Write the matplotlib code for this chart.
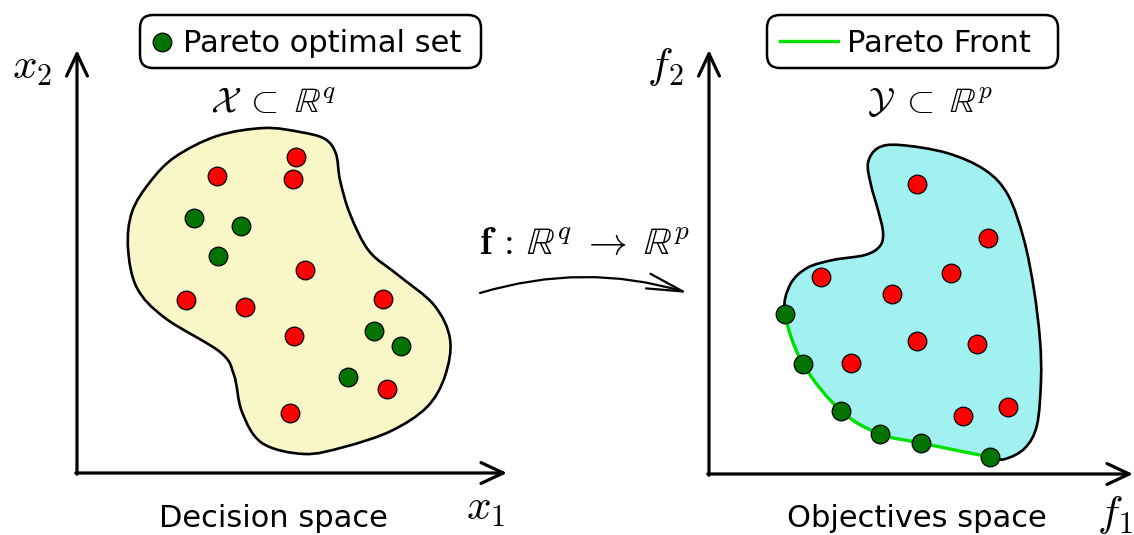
import numpy as np
import matplotlib.pyplot as plt
from matplotlib.path import Path
from matplotlib.patches import PathPatch, FancyBboxPatch

plt.rcParams["mathtext.fontset"] = "cm"
plt.rcParams["font.family"] = "DejaVu Sans"

# points in the decision space (pixel frame of the drawing)
DEC_OTHER_X = [296, 293, 217, 305, 186, 245, 383, 294, 387, 290]
DEC_OTHER_Y = [157, 179, 176, 270, 300, 307, 299, 336, 389, 413]
DEC_PARETO_X = [194, 241, 218, 374, 401, 348]
DEC_PARETO_Y = [218, 226, 256, 331, 346, 377]

# points in the objectives space
OBJ_OTHER_X = [917, 988, 951, 821, 892, 917, 977, 851, 963, 1008]
OBJ_OTHER_Y = [184, 238, 273, 277, 294, 341, 344, 363, 416, 407]
OBJ_PARETO_X = [785, 803, 841, 880, 921, 990]
OBJ_PARETO_Y = [314, 364, 411, 434, 443, 457]

# outline of the feasible regions
DEC_OUTLINE = [(264, 128), (300, 132), (325, 139), (336, 154), (340, 180), (350, 214),
               (369, 251), (398, 275), (434, 305), (450, 339), (445, 376), (427, 407),
               (391, 431), (344, 447), (304, 454), (262, 443), (242, 412), (234, 375),
               (220, 352), (165, 318), (137, 288), (128, 248), (132, 212), (150, 182),
               (175, 157), (217, 136)]
OBJ_OUTLINE = [(790, 285), (807, 268), (833, 260), (865, 255), (880, 246), (883, 232),
               (878, 210), (871, 185), (868, 163), (878, 148), (900, 145), (947, 153),
               (985, 170), (1008, 195), (1024, 240), (1034, 290), (1040, 340), (1041, 380),
               (1037, 425), (1025, 448), (1005, 459)]

RED = "#ff0000"
GREEN = "#007300"
FRONT_GREEN = "#00e000"
YELLOW_FILL = "#f9f6c7"
CYAN_FILL = "#a0f1f0"


def smooth_path(pts, segments):
    # closed Catmull-Rom through pts, as cubic bezier pieces
    pts = np.asarray(pts, float)
    n = len(pts)
    verts, codes = [], []
    last = None
    for i in segments:
        p0, p1, p2, p3 = pts[(i - 1) % n], pts[i], pts[(i + 1) % n], pts[(i + 2) % n]
        if last != i:
            verts.append(p1)
            codes.append(Path.MOVETO)
        verts += [p1 + (p2 - p0) / 6, p2 - (p3 - p1) / 6, p2]
        codes += [Path.CURVE4] * 3
        last = (i + 1) % n
    return Path(verts, codes)


def draw_axes(ax, x0, y0, x_end, y_top):
    style = "->,head_length=1.6,head_width=0.75"
    kw = dict(arrowstyle=style, lw=2.3, color="black", mutation_scale=10,
              shrinkA=0, shrinkB=0)
    ax.annotate("", xy=(x0, y_top), xytext=(x0, y0 + 1.2), arrowprops=kw)
    ax.annotate("", xy=(x_end, y0), xytext=(x0 - 1.2, y0), arrowprops=kw)


fig = plt.figure(figsize=(11.34, 5.35), dpi=100)
ax = fig.add_axes([0, 0, 1, 1])
ax.set_xlim(0, 1134)
ax.set_ylim(535, 0)
ax.axis("off")

# decision space
draw_axes(ax, 77, 473, 507, 50)
dec_all = range(len(DEC_OUTLINE))
ax.add_patch(PathPatch(smooth_path(DEC_OUTLINE, dec_all), facecolor=YELLOW_FILL,
                       edgecolor="black", lw=1.9, zorder=2))
ax.scatter(DEC_OTHER_X, DEC_OTHER_Y, s=180, c=RED, edgecolors="black", linewidths=0.9, zorder=4)
ax.scatter(DEC_PARETO_X, DEC_PARETO_Y, s=180, c=GREEN, edgecolors="black", linewidths=0.9, zorder=4)

# objectives space
draw_axes(ax, 709, 474, 1133, 50)
front = list(zip(OBJ_PARETO_X, OBJ_PARETO_Y))[::-1]
loop = OBJ_OUTLINE + front
k = len(OBJ_OUTLINE)
n = len(loop)
front_segs = list(range(k, n - 1))
outline_segs = [n - 1] + list(range(0, k))
ax.add_patch(PathPatch(smooth_path(loop, range(n)), facecolor=CYAN_FILL,
                       edgecolor="none", zorder=1))
ax.add_patch(PathPatch(smooth_path(loop, outline_segs), facecolor="none",
                       edgecolor="black", lw=1.9, zorder=2))
ax.add_patch(PathPatch(smooth_path(loop, front_segs), facecolor="none",
                       edgecolor=FRONT_GREEN, lw=2.4, zorder=3, capstyle="round"))
ax.scatter(OBJ_OTHER_X, OBJ_OTHER_Y, s=180, c=RED, edgecolors="black", linewidths=0.9, zorder=4)
ax.scatter(OBJ_PARETO_X, OBJ_PARETO_Y, s=180, c=GREEN, edgecolors="black", linewidths=0.9, zorder=4)

# mapping arrow
ax.annotate("", xy=(688, 293), xytext=(480, 293),
            arrowprops=dict(arrowstyle="->,head_length=2.6,head_width=0.55", lw=1.6,
                            color="black", mutation_scale=10, shrinkA=0, shrinkB=0,
                            connectionstyle="arc3,rad=-0.15"))
ax.text(585, 243, r"$\mathbf{f}\,:\,\mathbb{R}^q\;\rightarrow\;\mathbb{R}^p$",
        fontsize=28, ha="center", va="center")

# legends
for (x0, x1) in [(140, 481), (767, 1058)]:
    ax.add_patch(FancyBboxPatch((x0, 15), x1 - x0, 53,
                                boxstyle="round,pad=0,rounding_size=13",
                                facecolor="white", edgecolor="black", lw=1.8, zorder=5))
ax.scatter([162], [42], s=180, c=GREEN, edgecolors="black", linewidths=0.9, zorder=6)
ax.text(183, 52, "Pareto optimal set", fontsize=22, ha="left", va="baseline", zorder=6)
ax.plot([780, 838], [41, 41], color=FRONT_GREEN, lw=2.4, zorder=6)
ax.text(847, 52, "Pareto Front", fontsize=22, ha="left", va="baseline", zorder=6)

# labels
ax.text(273, 103, r"$\mathcal{X}\;\subset\;\mathbb{R}^q$", fontsize=26, ha="center", va="center")
ax.text(930, 103, r"$\mathcal{Y}\;\subset\;\mathbb{R}^p$", fontsize=26, ha="center", va="center")
ax.text(32, 67, r"$x_2$", fontsize=31, ha="center", va="center")
ax.text(486, 508, r"$x_1$", fontsize=31, ha="center", va="center")
ax.text(665, 67, r"$f_2$", fontsize=31, ha="center", va="center")
ax.text(1133, 515, r"$f_1$", fontsize=31, ha="right", va="center")
ax.text(273, 527, "Decision space", fontsize=22, ha="center", va="baseline")
ax.text(917, 527, "Objectives space", fontsize=22, ha="center", va="baseline")

fig.savefig("out.png", dpi=100)
plt.close(fig)
